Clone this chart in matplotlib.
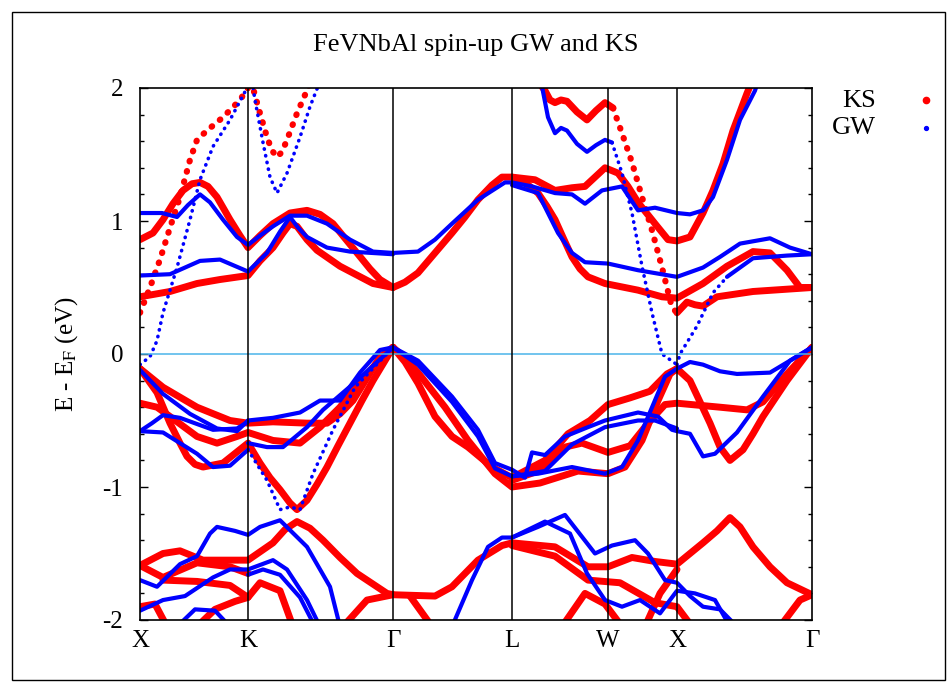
import matplotlib.pyplot as plt
from matplotlib.patches import Rectangle
from matplotlib.ticker import MultipleLocator

plt.rcParams['font.family'] = ['Liberation Serif', 'DejaVu Serif']
plt.rcParams['mathtext.fontset'] = 'stix'

# high-symmetry points along the path (path-length units)
kpts = [0, 108, 253, 372, 468, 537, 672]
klabels = ['X', 'K', 'Γ', 'L', 'W', 'X', 'Γ']

# KS bands, (k, E) pairs
ks_smooth = [
    [(0, 0.86), (13, 0.91), (23, 1.01), (33, 1.13), (43, 1.23), (52, 1.28), (60, 1.29), (68, 1.26), (77, 1.18),
     (90, 1.01), (100, 0.89), (108, 0.80),
     (120, 0.89), (133, 0.98), (150, 1.06), (167, 1.08), (180, 1.05), (193, 0.98), (205, 0.87), (217, 0.76),
     (230, 0.64), (240, 0.56), (253, 0.50),
     (265, 0.54), (278, 0.61), (295, 0.76), (312, 0.91), (325, 1.03), (338, 1.16), (352, 1.27), (362, 1.33), (372, 1.33),
     (395, 1.31), (415, 1.23), (432, 1.25), (445, 1.26), (455, 1.33), (465, 1.40), (478, 1.36), (488, 1.26),
     (498, 1.14), (515, 0.98), (528, 0.86), (537, 0.85), (550, 0.88), (563, 1.06), (573, 1.23), (583, 1.43),
     (593, 1.68), (607, 1.96), (612, 2.05)],
    [(0, 0.43), (30, 0.47), (57, 0.53), (80, 0.56), (108, 0.59),
     (120, 0.70), (133, 0.80), (143, 0.91), (150, 0.98), (157, 0.96), (167, 0.86), (177, 0.78), (200, 0.66),
     (233, 0.53), (253, 0.50)],
    [(372, 1.33), (385, 1.29), (398, 1.21), (407, 1.11), (415, 1.01), (424, 0.86), (432, 0.73), (440, 0.64),
     (448, 0.58), (465, 0.53), (498, 0.48), (522, 0.43), (537, 0.42),
     (563, 0.53), (587, 0.66), (613, 0.77), (630, 0.76), (647, 0.63), (660, 0.50), (672, 0.50)],
    [(398, 2.05), (405, 1.98), (410, 1.91), (415, 1.89), (421, 1.91), (427, 1.90), (437, 1.82), (447, 1.76),
     (456, 1.83), (465, 1.89), (473, 1.85)],
    [(537, 0.31), (547, 0.39), (555, 0.37), (563, 0.36), (577, 0.43), (613, 0.47), (672, 0.50)],
    # valence
    [(0, -0.11), (23, -0.25), (57, -0.40), (90, -0.50), (108, -0.52),
     (133, -0.51), (167, -0.52), (187, -0.52), (200, -0.45), (213, -0.35), (227, -0.18), (240, -0.02), (253, 0.05)],
    [(0, -0.37), (17, -0.40), (30, -0.47), (57, -0.62), (77, -0.67), (97, -0.62), (108, -0.59),
     (133, -0.65), (160, -0.67), (180, -0.55), (200, -0.40), (217, -0.24), (233, -0.10), (253, 0.05)],
    [(0, -0.11), (17, -0.29), (30, -0.52), (40, -0.67), (47, -0.77), (55, -0.83), (63, -0.85), (83, -0.82),
     (108, -0.67), (120, -0.82), (130, -0.93), (140, -1.02), (150, -1.12), (157, -1.17), (167, -1.10),
     (177, -0.98), (187, -0.85), (198, -0.69), (210, -0.52), (222, -0.35), (233, -0.20), (253, 0.05)],
    [(253, 0.05), (265, -0.03), (278, -0.14), (305, -0.40), (328, -0.65), (355, -0.90), (372, -1.00),
     (400, -0.97), (438, -0.88), (468, -0.90), (485, -0.85), (502, -0.65), (518, -0.35), (530, -0.15), (537, -0.11),
     (550, -0.20), (560, -0.36), (570, -0.52), (580, -0.70), (590, -0.80), (603, -0.72), (613, -0.60), (623, -0.47),
     (647, -0.20), (672, 0.05)],
    [(253, 0.05), (265, -0.06), (278, -0.22), (295, -0.47), (312, -0.62), (328, -0.70), (352, -0.85), (372, -0.93),
     (405, -0.80), (428, -0.60), (450, -0.50), (468, -0.38), (490, -0.33), (510, -0.28), (527, -0.15), (537, -0.11)],
    [(372, -0.95), (398, -0.88), (425, -0.70), (442, -0.67), (468, -0.74), (490, -0.69), (508, -0.52), (525, -0.38),
     (537, -0.37), (580, -0.40), (607, -0.42), (623, -0.36), (647, -0.15), (672, 0.05)],
    # lower valence
    [(0, -1.59), (23, -1.50), (40, -1.48), (63, -1.55), (90, -1.55), (108, -1.55),
     (133, -1.42), (145, -1.32), (157, -1.26), (170, -1.31), (183, -1.40), (200, -1.53), (217, -1.65),
     (247, -1.80), (253, -1.81),
     (295, -1.82), (312, -1.75), (325, -1.65), (338, -1.55), (362, -1.44), (372, -1.42),
     (415, -1.45), (448, -1.60), (468, -1.60), (492, -1.53), (515, -1.56), (537, -1.58),
     (550, -1.50), (563, -1.42), (577, -1.33), (590, -1.23), (600, -1.30), (613, -1.45), (630, -1.60),
     (647, -1.72), (672, -1.81)],
    [(0, -1.59), (23, -1.68), (57, -1.57), (90, -1.60), (108, -1.65)],
    [(23, -1.70), (57, -1.71), (90, -1.74), (108, -1.83), (120, -1.72), (140, -1.78), (153, -2.05)],
    [(0, -1.90), (15, -1.88), (27, -2.05)],
    [(57, -2.05), (75, -1.92), (95, -1.86), (108, -1.83)],
    [(203, -2.05), (227, -1.85), (253, -1.81)],
    [(270, -1.82), (292, -2.05)],
    [(372, -1.44), (415, -1.52), (448, -1.70), (480, -1.72), (515, -1.87), (537, -1.90), (552, -2.05)],
    [(422, -2.05), (445, -1.80), (465, -1.88), (482, -2.05)],
    [(505, -2.05), (520, -1.80), (537, -1.62)],
    [(640, -2.05), (660, -1.85), (672, -1.81)],
]
ks_steep = [
    [(0, 0.31), (10, 0.50), (20, 0.71), (30, 0.95), (40, 1.18), (50, 1.46), (57, 1.61), (67, 1.68), (83, 1.78),
     (100, 1.91), (108, 2.00)],
    [(111, 2.05), (113, 2.00), (120, 1.81), (127, 1.63), (132, 1.53), (137, 1.48), (142, 1.52), (147, 1.61),
     (157, 1.81), (168, 2.00), (170, 2.05)],
    [(473, 1.85), (482, 1.66), (492, 1.44), (502, 1.18), (512, 0.93), (522, 0.65), (532, 0.35), (537, 0.31)],
]

# GW bands
gw_smooth = [
    [(0, 1.06), (22, 1.06), (37, 1.03), (48, 1.12), (60, 1.20), (70, 1.14), (83, 1.01), (97, 0.88), (108, 0.82),
     (120, 0.89), (133, 0.96), (150, 1.04), (167, 1.04), (187, 0.98), (210, 0.86), (233, 0.77), (253, 0.76),
     (278, 0.77), (295, 0.86), (312, 0.98), (338, 1.16), (365, 1.29), (372, 1.29),
     (392, 1.26), (415, 1.21), (432, 1.20), (445, 1.13), (462, 1.23), (482, 1.26), (498, 1.08), (515, 1.10),
     (537, 1.06), (550, 1.05), (563, 1.08), (573, 1.18), (587, 1.46), (600, 1.76), (615, 1.98), (618, 2.05)],
    [(0, 0.59), (30, 0.60), (60, 0.70), (80, 0.71), (108, 0.62),
     (127, 0.76), (140, 0.92), (150, 1.03), (158, 0.95), (167, 0.88), (187, 0.80), (210, 0.77), (253, 0.75)],
    [(372, 1.27), (398, 1.21), (408, 1.06), (418, 0.91), (432, 0.76), (445, 0.69), (468, 0.68), (498, 0.63),
     (537, 0.58), (563, 0.65), (580, 0.73), (600, 0.83), (630, 0.87), (650, 0.80), (672, 0.75)],
    [(401, 2.05), (408, 1.78), (415, 1.66), (421, 1.70), (427, 1.68), (437, 1.58), (447, 1.52), (456, 1.57),
     (465, 1.61), (472, 1.59)],
    [(587, 0.58), (613, 0.72), (647, 0.74), (672, 0.75)],
    # valence
    [(0, -0.12), (23, -0.30), (50, -0.45), (77, -0.56), (97, -0.58), (108, -0.50)],
    [(0, -0.58), (12, -0.52), (23, -0.46), (40, -0.48), (73, -0.57), (97, -0.56), (108, -0.51)],
    [(0, -0.58), (23, -0.59), (57, -0.75), (73, -0.85), (90, -0.84), (108, -0.72)],
    [(108, -0.50), (133, -0.48), (160, -0.44), (180, -0.35), (200, -0.35), (220, -0.14), (240, 0.03), (253, 0.05)],
    [(108, -0.67), (127, -0.70), (143, -0.70), (167, -0.55), (183, -0.42), (217, -0.20), (253, 0.05)],
    [(253, 0.05), (278, -0.05), (312, -0.32), (338, -0.57), (355, -0.82), (372, -0.87),
     (385, -0.93), (392, -0.74), (405, -0.76), (425, -0.62), (448, -0.55), (465, -0.50), (498, -0.44),
     (518, -0.47), (532, -0.57), (537, -0.58), (550, -0.60), (563, -0.77), (575, -0.75), (597, -0.59),
     (623, -0.32), (650, -0.05), (672, 0.05)],
    [(253, 0.05), (278, -0.08), (312, -0.36), (338, -0.62), (355, -0.86), (372, -0.92),
     (398, -0.90), (432, -0.85), (465, -0.90), (482, -0.85), (498, -0.65), (525, -0.17), (537, -0.11),
     (550, -0.06), (563, -0.08), (580, -0.13), (597, -0.15), (630, -0.14), (650, -0.05), (672, 0.05)],
    [(372, -0.92), (405, -0.88), (432, -0.68), (465, -0.55), (498, -0.50), (515, -0.50), (537, -0.56)],
    # lower valence
    [(0, -1.70), (17, -1.75), (40, -1.58), (57, -1.52), (70, -1.35), (77, -1.30), (95, -1.33), (108, -1.36),
     (120, -1.30), (140, -1.25), (167, -1.45), (190, -1.75), (200, -2.05)],
    [(0, -1.93), (23, -1.85), (45, -1.82), (73, -1.68), (90, -1.62), (108, -1.62),
     (133, -1.55), (147, -1.62), (167, -1.85), (180, -2.05)],
    [(108, -1.66), (123, -1.62), (140, -1.66), (160, -1.83), (175, -2.05)],
    [(37, -2.05), (55, -1.92), (75, -1.93), (90, -2.05)],
    [(312, -2.05), (332, -1.70), (348, -1.45), (362, -1.38), (372, -1.38),
     (398, -1.30), (425, -1.21), (455, -1.50), (472, -1.44), (495, -1.40), (508, -1.50), (525, -1.70),
     (537, -1.72), (550, -1.82), (563, -1.90), (580, -1.92), (597, -2.05)],
    [(372, -1.38), (405, -1.26), (430, -1.35), (447, -1.65), (465, -1.85), (482, -1.90), (500, -1.85),
     (520, -1.95), (537, -1.78), (555, -1.80), (575, -1.85), (590, -2.05)],
]
gw_steep = [
    [(0, -0.08), (5, -0.05), (10, -0.02), (17, 0.10), (23, 0.31), (37, 0.65), (50, 1.01), (60, 1.31),
     (73, 1.56), (90, 1.76), (107, 2.00)],
    [(112, 2.05), (115, 1.91), (123, 1.59), (130, 1.33), (137, 1.21), (147, 1.36), (160, 1.63), (170, 1.86),
     (180, 2.05)],
    [(472, 1.59), (482, 1.36), (492, 1.06), (502, 0.66), (512, 0.31), (522, 0.00), (537, -0.08)],
    [(537, -0.08), (540, 0.00), (557, 0.21), (573, 0.46), (587, 0.58)],
    [(108, -0.72), (127, -0.95), (140, -1.17), (150, -1.15), (160, -1.17), (173, -0.90), (193, -0.57),
     (215, -0.25), (253, 0.05)],
]

red = '#ff0000'
blue = '#0000ff'

fig = plt.figure(figsize=(9.53, 6.86), dpi=100)
ax = fig.add_axes([140 / 953, 1 - 620 / 686, 672 / 953, 532 / 686])

for band in ks_smooth:
    k, e = zip(*band)
    ax.plot(k, e, color=red, lw=5, solid_capstyle='round', solid_joinstyle='round')
for band in ks_steep:
    k, e = zip(*band)
    ax.plot(k, e, color=red, lw=4.5, linestyle=(0, (0.1, 1.6)), dash_capstyle='round')
for band in gw_smooth:
    k, e = zip(*band)
    ax.plot(k, e, color=blue, lw=3, solid_capstyle='round', solid_joinstyle='round')
for band in gw_steep:
    k, e = zip(*band)
    ax.plot(k, e, color=blue, lw=2.6, linestyle=(0, (0.1, 1.8)), dash_capstyle='round')

# Fermi level and symmetry lines
ax.axhline(0, color='#4ab4ea', lw=1.1)
for kp in kpts[1:-1]:
    ax.axvline(kp, color='black', lw=1.1)

ax.set_xlim(kpts[0], kpts[-1])
ax.set_ylim(-2, 2)
ax.set_xticks(kpts)
ax.set_xticklabels(klabels, fontsize=18)
ax.set_yticks([-2, -1, 0, 1, 2])
ax.set_yticklabels(['-2', '-1', '0', '1', '2'], fontsize=18)
ax.yaxis.set_minor_locator(MultipleLocator(0.2))
ax.tick_params(axis='y', which='both', direction='in', right=True, left=True)
ax.tick_params(axis='y', which='major', length=6, width=1, pad=12)
ax.tick_params(axis='y', which='minor', length=3, width=1)
ax.tick_params(axis='x', length=0, pad=7)
for spine in ax.spines.values():
    spine.set_linewidth(1.2)

ax.set_ylabel('E - E$_\\mathrm{F}$ (eV)', fontsize=18, labelpad=16)
fig.text(476 / 953, 1 - 45 / 686, 'FeVNbAl spin-up GW and KS', ha='center', va='center', fontsize=19)

# key
fig.text(876 / 953, 1 - 101 / 686, 'KS', ha='right', va='center', fontsize=19)
fig.text(876 / 953, 1 - 128 / 686, 'GW', ha='right', va='center', fontsize=19)
ax.plot([926 / 953], [1 - 100 / 686], 'o', color=red, ms=4.5, transform=fig.transFigure, clip_on=False)
ax.plot([926 / 953], [1 - 128 / 686], 'o', color=blue, ms=2.8, transform=fig.transFigure, clip_on=False)

# outer frame
fig.patches.append(Rectangle((12 / 953, 6 / 686), 933 / 953, 668 / 686, transform=fig.transFigure,
                             fill=False, edgecolor='black', lw=1.0))

fig.savefig('out.png', dpi=100)
